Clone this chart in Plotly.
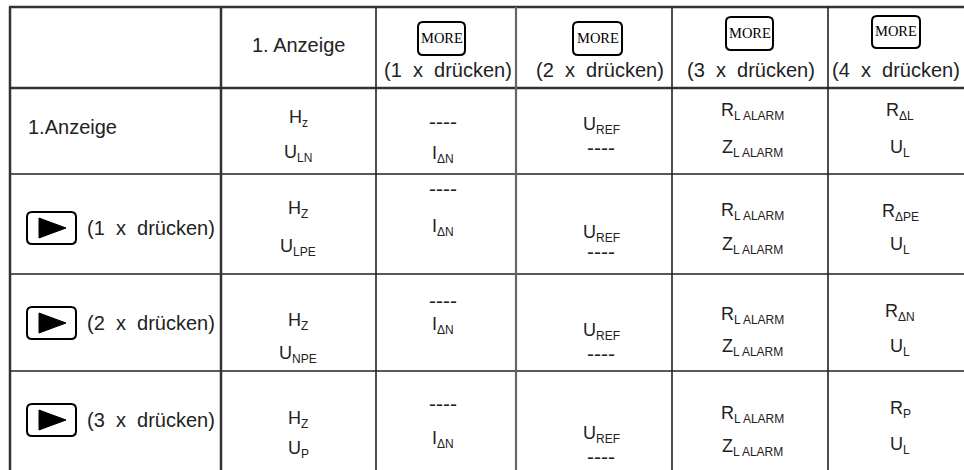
import plotly.graph_objects as go

# ---------------- data (table content) ----------------
header_first = "1. Anzeige"
more_label = "MORE"
NB = "\u00a0"
press_labels = [f"({n}{NB} x{NB} drücken)" for n in ["1", "2", "3", "4"]]
row_first = "1.Anzeige"
row_press = [f"({n}{NB} x{NB} drücken)" for n in ["1", "2", "3"]]

col1_main_top = ["H", "H", "H", "H"]
col1_sub_top = ["z", "Z", "Z", "Z"]
col1_main_bot = ["U", "U", "U", "U"]
col1_sub_bot = ["LN", "LPE", "NPE", "P"]
col2_main_bot = ["I", "I", "I", "I"]
col2_sub_bot = ["ΔN", "ΔN", "ΔN", "ΔN"]
col3_main_top = ["U", "U", "U", "U"]
col3_sub_top = ["REF", "REF", "REF", "REF"]
col4_main_top = ["R", "R", "R", "R"]
col4_sub_top = ["L ALARM"] * 4
col4_main_bot = ["Z", "Z", "Z", "Z"]
col4_sub_bot = ["L ALARM"] * 4
col5_main_top = ["R", "R", "R", "R"]
col5_sub_top = ["ΔL", "ΔPE", "ΔN", "P"]
col5_main_bot = ["U", "U", "U", "U"]
col5_sub_bot = ["L", "L", "L", "L"]
dash_text = "----"

# ---------------- layout (geometry) ----------------
W, H = 964, 470
col_edges = [10, 221, 376, 516, 672, 828]
row_edges = [7, 88, 174, 274, 371]
col_centers = [298, 443, 601, 752, 900]
# (top line y, bottom line y) per row, per column 1..5
cell_y = [
    [(118, 153), (121, 154), (125, 147), (111, 148), (111, 148)],
    [(209, 247), (188, 227), (233, 251), (211, 245), (212, 245)],
    [(321, 354), (300, 325), (331, 353), (315, 347), (312, 347)],
    [(419, 449), (403, 439), (434, 456), (414, 447), (409, 445)],
]
more_boxes = [(418, 465, 22, 55), (573, 622, 22, 55), (726, 773, 17, 50), (872, 920, 16, 48)]
press_pos = [(448, 70), (600, 70), (751, 70), (896, 70)]
button_rows = [228, 323, 420]

INK = "#222222"
FONT = "Liberation Sans, Arial, sans-serif"
FS_LABEL = 20
FS_MAIN = 18
FS_SUB = 12
FS_DASH = 21

def sym(m, s):
    return f"{m}<sub><span style='font-size:{FS_SUB}px'>{s}</span></sub>"

fig = go.Figure()
fig.add_trace(go.Scatter(x=[0, W], y=[0, H], mode="markers", marker=dict(opacity=0),
                         hoverinfo="skip", showlegend=False))

shapes = []
def line(x0, y0, x1, y1, w, c=INK):
    shapes.append(dict(type="line", x0=x0, y0=y0, x1=x1, y1=y1, line=dict(color=c, width=w), layer="above"))

def rrect(x0, x1, y0, y1, r=5, w=2):
    p = (f"M {x0+r} {y0} L {x1-r} {y0} Q {x1} {y0} {x1} {y0+r} L {x1} {y1-r} Q {x1} {y1} {x1-r} {y1} "
         f"L {x0+r} {y1} Q {x0} {y1} {x0} {y1-r} L {x0} {y0+r} Q {x0} {y0} {x0+r} {y0} Z")
    shapes.append(dict(type="path", path=p, line=dict(color="black", width=w), fillcolor="white", layer="above"))

# grid
line(col_edges[0] - 1, row_edges[0], W, row_edges[0], 2.5, "#333333")
line(col_edges[0], row_edges[1], W, row_edges[1], 2.5, "#333333")
for yy in row_edges[2:]:
    line(col_edges[0], yy, W, yy, 1.6)
line(col_edges[0], row_edges[0], col_edges[0], H, 2.5, "#333333")
line(col_edges[1], row_edges[0], col_edges[1], H, 2.5, "#333333")
line(col_edges[2], row_edges[0], col_edges[2], H, 1.6)
line(col_edges[3], row_edges[0], col_edges[3], H, 2.2, "#666666")
line(col_edges[4], row_edges[0], col_edges[4], H, 1.6)
line(col_edges[5], row_edges[0], col_edges[5], H, 1.6)

ann = []
def txt(x, y, s, xa="center", size=FS_MAIN, family=FONT, color=INK):
    ann.append(dict(x=x, y=y, text=s, showarrow=False, xanchor=xa, yanchor="middle",
                    borderpad=0, font=dict(family=family, size=size, color=color)))

# header
txt(col_centers[0], 45, header_first, size=FS_LABEL)
for (x0, x1, y0, y1), (px, py), lab in zip(more_boxes, press_pos, press_labels):
    rrect(x0, x1, y0, y1, r=5, w=2)
    txt((x0 + x1) / 2, (y0 + y1) / 2 - 1, more_label, size=14.5,
        family="Liberation Serif, Times New Roman, serif", color="black")
    txt(px, py, lab, size=FS_LABEL)

# row labels
txt(27, 127, row_first, xa="left", size=FS_LABEL)
for yc, lab in zip(button_rows, row_press):
    rrect(27, 76, yc - 16, yc + 16, r=5, w=2)
    shapes.append(dict(type="path", path=f"M 39 {yc-10} L 66 {yc} L 39 {yc+10} Z",
                       fillcolor="black", line=dict(color="black", width=1), layer="above"))
    txt(86, yc, lab, xa="left", size=FS_LABEL)

# cells
for r in range(4):
    ys = cell_y[r]
    txt(col_centers[0], ys[0][0], sym(col1_main_top[r], col1_sub_top[r]))
    txt(col_centers[0], ys[0][1], sym(col1_main_bot[r], col1_sub_bot[r]))
    txt(col_centers[1], ys[1][0], dash_text, size=FS_DASH)
    txt(col_centers[1], ys[1][1], sym(col2_main_bot[r], col2_sub_bot[r]))
    txt(col_centers[2], ys[2][0], sym(col3_main_top[r], col3_sub_top[r]))
    txt(col_centers[2], ys[2][1], dash_text, size=FS_DASH)
    txt(col_centers[3], ys[3][0], sym(col4_main_top[r], col4_sub_top[r]))
    txt(col_centers[3], ys[3][1], sym(col4_main_bot[r], col4_sub_bot[r]))
    txt(col_centers[4], ys[4][0], sym(col5_main_top[r], col5_sub_top[r]))
    txt(col_centers[4], ys[4][1], sym(col5_main_bot[r], col5_sub_bot[r]))

fig.update_layout(
    width=W, height=H, margin=dict(l=0, r=0, t=0, b=0),
    paper_bgcolor="white", plot_bgcolor="white",
    xaxis=dict(range=[0, W], visible=False, fixedrange=True),
    yaxis=dict(range=[H, 0], visible=False, fixedrange=True),
    shapes=shapes, annotations=ann, showlegend=False,
)
fig.write_html("out.html", config={"displayModeBar": False},
               post_script="document.body.style.margin='0';document.body.style.overflow='hidden';")
